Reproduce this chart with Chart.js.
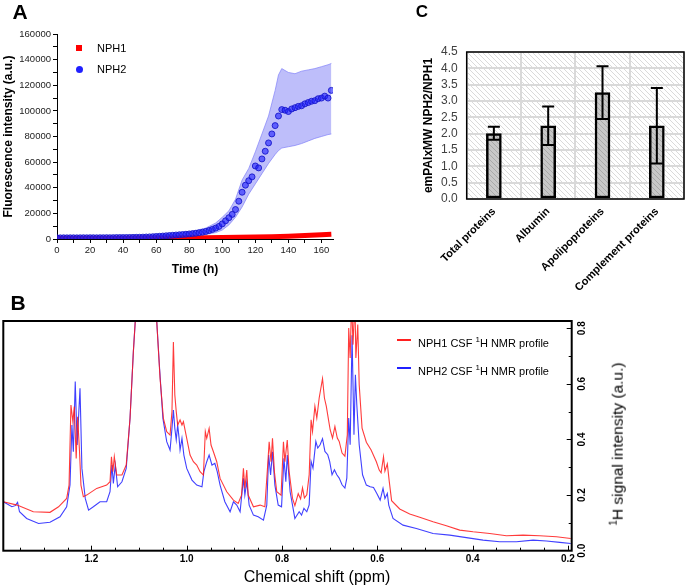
<!DOCTYPE html>
<html>
<head>
<meta charset="utf-8">
<script src="https://cdn.jsdelivr.net/npm/chart.js@4.4.1/dist/chart.umd.min.js"></script>
<style>
  html, body { margin: 0; padding: 0; background: #fff; }
  #figure { position: relative; width: 685px; height: 588px; overflow: hidden;
            font-family: 'Liberation Sans', Arial, sans-serif; color: #000; }
  canvas { position: absolute; }
  .label { position: absolute; white-space: nowrap; transform: translate(-50%, -50%); line-height: 1; }
  .panel { font-weight: bold; }
  .legend { position: absolute; white-space: nowrap; font-size: 11px; line-height: 14px; }
  .swatch { position: absolute; }
</style>
</head>
<body>
<div id="figure">
  <canvas id="chartA" width="345" height="290" style="left:0;top:0"></canvas>
  <canvas id="chartC" width="345" height="290" style="left:340px;top:0"></canvas>
  <canvas id="chartB" width="685" height="303" style="left:0;top:285px"></canvas>

  <div class="label panel" style="left:20px;top:11px;font-size:21px">A</div>
  <div class="label panel" style="left:18px;top:302px;font-size:21px">B</div>
  <div class="label panel" style="left:422px;top:11px;font-size:17px">C</div>

  <!-- panel A legend -->
  <div class="swatch" style="left:76px;top:45px;width:6px;height:6px;background:#ff0000"></div>
  <div class="legend" style="left:97px;top:41px">NPH1</div>
  <div class="swatch" style="left:76px;top:66px;width:7px;height:7px;border-radius:50%;background:#2020ff"></div>
  <div class="legend" style="left:97px;top:62px">NPH2</div>

  <!-- panel B legend and titles -->
  <div class="swatch" style="left:397px;top:339px;width:14px;height:2px;background:#ff2020"></div>
  <div class="legend" style="left:418px;top:333px">NPH1 CSF <sup style="font-size:8px">1</sup>H NMR profile</div>
  <div class="swatch" style="left:397px;top:367px;width:14px;height:2px;background:#2020ff"></div>
  <div class="legend" style="left:418px;top:361px">NPH2 CSF <sup style="font-size:8px">1</sup>H NMR profile</div>
  <div class="label" style="left:317px;top:577px;font-size:16px">Chemical shift (ppm)</div>
  <div class="label" style="left:617px;top:444px;font-size:15.5px;transform:translate(-50%,-50%) rotate(-90deg)"><sup style="font-size:10px">1</sup>H signal intensity (a.u.)</div>
</div>

<script>
// ------------------------------------------------------------
// Panel A: fluorescence vs time
// ------------------------------------------------------------
const timeHours = [0,2,4,6,8,10,12,14,16,18,20,22,24,26,28,30,32,34,36,38,
  40,42,44,46,48,50,52,54,56,58,60,62,64,66,68,70,72,74,76,78,
  80,82,84,86,88,90,92,94,96,98,100,102,104,106,108,110,112,114,116,118,
  120,122,124,126,128,130,132,134,136,138,140,142,144,146,148,150,152,154,156,158,
  160,162,164,166];
const nph2Mean = [900,900,950,900,950,950,900,950,1000,950,1000,1000,950,1000,1000,1050,1000,1050,1100,1100,
  1100,1150,1200,1250,1300,1350,1450,1550,1650,1800,1950,2100,2300,2500,2700,2900,3100,3300,3500,3700,
  3950,4200,4500,4900,5300,5900,6600,7500,8500,9800,11800,14200,16600,19200,23000,29500,36500,42000,45500,48500,
  57000,55500,62500,68500,75000,82000,88500,96000,101000,100500,99500,101500,102500,103500,104000,105500,106500,107500,108000,109500,
  110000,111500,110000,116000];

const bandHours = [0,20,40,60,70,80,90,96,100,104,108,112,116,120,124,128,132,134,136,140,144,148,152,156,160,164,166];
const nph2Upper = [1500,1500,1600,3000,4000,5500,8500,12500,17000,22000,31000,46000,55000,68000,82000,96000,116000,128000,133000,130000,129000,131000,132000,133000,134500,136000,137000];
const nph2Lower = [500,500,500,800,1500,2500,3500,5000,7000,11000,17000,25000,35000,43000,51000,59000,66000,69000,71000,72000,73000,74500,76500,78500,80000,81500,82000];

const nph1Hours = [0,10,20,30,40,50,60,70,80,90,100,110,120,130,140,150,160,166];
const nph1Mean = [500,500,550,600,650,700,750,850,950,1050,1150,1300,1500,1800,2200,2700,3300,3700];

// ------------------------------------------------------------
// Panel C: emPAI x MW ratio
// ------------------------------------------------------------
const proteinGroups = ['Total proteins', 'Albumin', 'Apolipoproteins', 'Complement proteins'];
const ratioMean = [2.0, 2.24, 3.26, 2.24];
const ratioHigh = [2.21, 2.83, 4.06, 3.40];
const ratioLow = [1.81, 1.65, 2.45, 1.09];

// ------------------------------------------------------------
// Panel B: 1H NMR spectra [ppm, intensity]
// ------------------------------------------------------------
const nph1Spectrum = [[1.385,0.176],[1.356,0.164],[1.322,0.140],[1.287,0.138],[1.269,0.158],[1.252,0.188],[1.247,0.236],
  [1.243,0.524],[1.239,0.464],[1.236,0.518],[1.232,0.332],[1.229,0.482],[1.225,0.356],[1.222,0.236],[1.217,0.194],
  [1.210,0.200],[1.189,0.224],[1.168,0.236],[1.161,0.248],[1.158,0.338],[1.155,0.284],[1.152,0.338],[1.147,0.272],
  [1.136,0.272],[1.127,0.308],[1.119,0.476],[1.112,0.716],[1.108,0.826],[1.086,1.6],[1.063,0.826],[1.056,0.620],
  [1.049,0.476],[1.042,0.428],[1.035,0.416],[1.031,0.500],[1.028,0.750],[1.025,0.560],[1.022,0.500],[1.019,0.452],
  [1.014,0.470],[1.010,0.452],[1.007,0.464],[1.000,0.404],[0.993,0.344],[0.986,0.320],[0.979,0.308],[0.972,0.284],
  [0.965,0.272],[0.961,0.428],[0.958,0.404],[0.953,0.440],[0.949,0.380],[0.944,0.356],[0.937,0.320],[0.930,0.260],
  [0.916,0.212],[0.902,0.182],[0.892,0.170],[0.885,0.200],[0.881,0.296],[0.878,0.224],[0.874,0.290],[0.871,0.200],
  [0.860,0.158],[0.846,0.164],[0.836,0.158],[0.831,0.284],[0.827,0.392],[0.823,0.320],[0.820,0.404],[0.816,0.284],
  [0.811,0.212],[0.802,0.200],[0.797,0.392],[0.794,0.320],[0.789,0.398],[0.785,0.284],[0.778,0.188],[0.773,0.162],
  [0.766,0.205],[0.761,0.186],[0.757,0.226],[0.753,0.190],[0.748,0.201],[0.743,0.273],[0.739,0.471],[0.736,0.429],
  [0.731,0.519],[0.727,0.477],[0.722,0.549],[0.715,0.619],[0.711,0.549],[0.707,0.519],[0.703,0.477],[0.699,0.435],
  [0.694,0.405],[0.689,0.447],[0.684,0.405],[0.680,0.393],[0.674,0.351],[0.668,0.340],[0.663,0.417],[0.660,0.801],
  [0.657,0.693],[0.654,0.900],[0.651,0.741],[0.647,0.900],[0.645,0.693],[0.641,0.813],[0.638,0.597],[0.632,0.441],
  [0.623,0.390],[0.613,0.362],[0.602,0.320],[0.596,0.290],[0.592,0.280],[0.587,0.338],[0.584,0.286],[0.579,0.312],
  [0.575,0.250],[0.570,0.180],[0.553,0.150],[0.532,0.132],[0.511,0.120],[0.483,0.104],[0.455,0.090],[0.427,0.074],
  [0.399,0.068],[0.364,0.062],[0.329,0.054],[0.294,0.056],[0.259,0.054],[0.224,0.050],[0.194,0.044]];

const nph2Spectrum = [[1.385,0.176],[1.367,0.158],[1.360,0.162],[1.355,0.174],[1.351,0.140],[1.336,0.116],[1.311,0.098],
  [1.287,0.102],[1.266,0.122],[1.252,0.158],[1.245,0.236],[1.241,0.452],[1.238,0.356],[1.234,0.608],[1.230,0.380],
  [1.224,0.584],[1.220,0.296],[1.213,0.188],[1.206,0.146],[1.196,0.158],[1.182,0.176],[1.168,0.176],[1.161,0.212],
  [1.157,0.308],[1.154,0.242],[1.150,0.308],[1.145,0.230],[1.136,0.248],[1.127,0.296],[1.119,0.476],[1.112,0.716],
  [1.108,0.826],[1.086,1.6],[1.063,0.826],[1.057,0.656],[1.050,0.476],[1.042,0.392],[1.035,0.362],[1.031,0.440],
  [1.028,0.506],[1.025,0.440],[1.022,0.398],[1.019,0.452],[1.016,0.404],[1.014,0.362],[1.010,0.404],[1.006,0.344],
  [1.000,0.296],[0.989,0.254],[0.979,0.236],[0.968,0.230],[0.964,0.284],[0.958,0.320],[0.953,0.344],[0.947,0.308],
  [0.941,0.314],[0.936,0.284],[0.930,0.236],[0.920,0.176],[0.909,0.140],[0.902,0.176],[0.895,0.164],[0.888,0.140],
  [0.881,0.260],[0.878,0.200],[0.874,0.248],[0.869,0.164],[0.860,0.128],[0.850,0.122],[0.839,0.110],[0.832,0.164],
  [0.828,0.344],[0.824,0.272],[0.820,0.356],[0.815,0.236],[0.808,0.164],[0.801,0.158],[0.796,0.332],[0.792,0.248],
  [0.789,0.344],[0.783,0.212],[0.773,0.116],[0.764,0.140],[0.759,0.128],[0.754,0.152],[0.748,0.140],[0.743,0.165],
  [0.739,0.321],[0.735,0.297],[0.729,0.393],[0.725,0.369],[0.720,0.381],[0.715,0.403],[0.710,0.357],[0.704,0.345],
  [0.700,0.321],[0.695,0.273],[0.690,0.291],[0.685,0.273],[0.680,0.261],[0.674,0.237],[0.668,0.225],[0.664,0.261],
  [0.660,0.477],[0.657,0.381],[0.653,0.775],[0.649,0.417],[0.646,0.633],[0.643,0.524],[0.638,0.381],[0.631,0.273],
  [0.623,0.236],[0.615,0.230],[0.608,0.227],[0.601,0.206],[0.594,0.182],[0.588,0.224],[0.584,0.188],[0.579,0.206],
  [0.576,0.164],[0.567,0.116],[0.546,0.092],[0.518,0.080],[0.483,0.062],[0.448,0.056],[0.413,0.047],[0.378,0.038],
  [0.343,0.032],[0.308,0.032],[0.273,0.038],[0.245,0.035],[0.217,0.030],[0.194,0.026]];

Chart.defaults.font.family = "'Liberation Sans', Arial, sans-serif";
Chart.defaults.color = '#222';
Chart.defaults.animation = false;
Chart.defaults.plugins.legend.display = false;
Chart.defaults.plugins.tooltip.enabled = false;

const toPoints = (xs, ys) => xs.map((x, i) => ({ x, y: ys[i] }));
const pairsToPoints = (pairs) => pairs.map(([x, y]) => ({ x, y }));

// ---------------- A ----------------
new Chart(document.getElementById('chartA'), {
  type: 'line',
  data: {
    datasets: [
      {
        label: 'NPH2',
        data: toPoints(timeHours, nph2Mean),
        showLine: false,
        pointRadius: 3,
        pointBackgroundColor: 'rgba(30, 30, 255, 0.6)',
        pointBorderColor: 'rgba(20, 20, 200, 0.85)',
        pointBorderWidth: 1,
      },
      {
        label: 'NPH1',
        data: toPoints(nph1Hours, nph1Mean),
        borderColor: '#ff0000',
        borderWidth: 5,
        pointRadius: 0,
      },
      {
        label: 'NPH2 upper',
        data: toPoints(bandHours, nph2Upper),
        borderColor: 'rgba(130, 130, 250, 0.7)',
        borderWidth: 1,
        pointRadius: 0,
        fill: '+1',
        backgroundColor: 'rgba(125, 125, 245, 0.5)',
      },
      {
        label: 'NPH2 lower',
        data: toPoints(bandHours, nph2Lower),
        borderColor: 'rgba(130, 130, 250, 0.7)',
        borderWidth: 1,
        pointRadius: 0,
      },
    ],
  },
  options: {
    responsive: false,
    layout: { padding: { top: 34, right: 12, left: 0, bottom: 0 } },
    scales: {
      x: {
        type: 'linear', min: 0, max: 167,
        ticks: { stepSize: 10, includeBounds: false, autoSkip: false, maxRotation: 0,
          callback: (v) => (v % 20 === 0 ? String(v) : ''), font: { size: 9.5 }, padding: 2 },
        grid: { drawOnChartArea: false, color: '#000', tickLength: 4 },
        border: { color: '#000', width: 1 },
        title: { display: true, text: 'Time (h)', color: '#000', font: { size: 12, weight: 'bold' },
          padding: { top: 0, bottom: 13 } },
        afterFit: (s) => { s.height = 51; },
      },
      y: {
        min: 0, max: 160000,
        ticks: { stepSize: 10000, autoSkip: false,
          callback: (v) => (v % 20000 === 0 ? String(v) : ''), font: { size: 9.5 }, padding: 2 },
        grid: { drawOnChartArea: false, color: '#000', tickLength: 4 },
        border: { color: '#000', width: 1 },
        title: { display: true, text: 'Fluorescence intensity (a.u.)', color: '#000',
          font: { size: 12, weight: 'bold' }, padding: { top: 1, bottom: 0 } },
        afterFit: (s) => { s.width = 57; },
      },
    },
  },
});

// ---------------- C ----------------
function makeHatch(ctx, bg, line, size) {
  const c = document.createElement('canvas');
  c.width = size;
  c.height = size;
  const g = c.getContext('2d');
  g.fillStyle = bg;
  g.fillRect(0, 0, size, size);
  g.strokeStyle = line;
  g.lineWidth = 1;
  g.beginPath();
  g.moveTo(-1, -1); g.lineTo(size + 1, size + 1);
  g.moveTo(-1, size - 1); g.lineTo(1, size + 1);
  g.moveTo(size - 1, -1); g.lineTo(size + 1, 1);
  g.stroke();
  return ctx.createPattern(c, 'repeat');
}

const ctxC = document.getElementById('chartC').getContext('2d');
const areaPattern = makeHatch(ctxC, '#ffffff', '#dadada', 5);
const barPattern = makeHatch(ctxC, '#c8c8c8', '#a8a8a8', 5);

const hatchedArea = {
  id: 'hatchedArea',
  beforeDraw(chart) {
    const { ctx, chartArea: a } = chart;
    ctx.save();
    ctx.fillStyle = areaPattern;
    ctx.fillRect(a.left, a.top, a.width, a.height);
    ctx.restore();
  },
  afterDatasetsDraw(chart) {
    const { ctx, chartArea: a, scales: { y } } = chart;
    const bars = chart.getDatasetMeta(0).data;
    ctx.save();
    ctx.strokeStyle = '#000';
    ctx.lineWidth = 2;
    bars.forEach((bar, i) => {
      const top = y.getPixelForValue(ratioHigh[i]);
      const bottom = y.getPixelForValue(ratioLow[i]);
      ctx.beginPath();
      ctx.moveTo(bar.x, top); ctx.lineTo(bar.x, bottom);
      ctx.moveTo(bar.x - 6, top); ctx.lineTo(bar.x + 6, top);
      ctx.moveTo(bar.x - 6, bottom); ctx.lineTo(bar.x + 6, bottom);
      ctx.stroke();
    });
    ctx.lineWidth = 1.5;
    ctx.strokeRect(a.left, a.top, a.width, a.height);
    ctx.restore();
  },
};

new Chart(ctxC, {
  type: 'bar',
  data: {
    labels: proteinGroups,
    datasets: [{
      data: ratioMean,
      backgroundColor: barPattern,
      borderColor: '#000',
      borderWidth: 2.5,
      borderSkipped: false,
      barThickness: 15,
    }],
  },
  options: {
    responsive: false,
    layout: { padding: { top: 52, right: 1, left: 80, bottom: 0 } },
    scales: {
      x: {
        grid: { color: '#d9d9d9', lineWidth: 2, drawTicks: false },
        border: { display: false },
        ticks: { minRotation: 45, maxRotation: 45, autoSkip: false, padding: 6,
          color: '#000', font: { size: 11, weight: 'bold' } },
        afterFit: (s) => { s.height = 91; },
      },
      y: {
        min: 0, max: 4.5,
        ticks: { stepSize: 0.5, autoSkip: false, callback: (v) => v.toFixed(1), padding: 9,
          color: '#404040', font: { size: 12 } },
        grid: { color: '#d9d9d9', lineWidth: 2, drawTicks: false },
        border: { display: false },
        title: { display: true, text: 'emPAIxMW NPH2/NPH1', color: '#000',
          font: { size: 12, weight: 'bold' }, padding: { top: 1, bottom: 0 } },
        afterFit: (s) => { s.width = 46.7; },
      },
    },
  },
  plugins: [hatchedArea],
});

// ---------------- B ----------------
const spectrumFrame = {
  id: 'spectrumFrame',
  afterDatasetsDraw(chart) {
    const { ctx, chartArea: a, scales: { x, y } } = chart;
    ctx.save();
    ctx.strokeStyle = '#000';
    ctx.lineWidth = 1;
    ctx.beginPath();
    for (let k = 4; k <= 27; k++) {
      const px = Math.round(x.getPixelForValue(k * 0.05)) + 0.5;
      const len = k % 4 === 0 ? 5 : 3;
      ctx.moveTo(px, a.bottom);
      ctx.lineTo(px, a.bottom - len);
    }
    for (let k = 1; k <= 8; k++) {
      const py = Math.round(y.getPixelForValue(k * 0.1)) + 0.5;
      const len = k % 2 === 0 ? 5 : 3;
      ctx.moveTo(a.right, py);
      ctx.lineTo(a.right - len, py);
    }
    ctx.stroke();
    ctx.lineWidth = 2;
    ctx.strokeRect(a.left, a.top, a.width, a.height);
    ctx.restore();
  },
};

new Chart(document.getElementById('chartB'), {
  type: 'line',
  data: {
    datasets: [
      {
        label: 'NPH1 CSF 1H NMR profile',
        data: pairsToPoints(nph1Spectrum),
        borderColor: 'rgba(255, 25, 25, 0.85)',
        borderWidth: 1.1,
        pointRadius: 0,
      },
      {
        label: 'NPH2 CSF 1H NMR profile',
        data: pairsToPoints(nph2Spectrum),
        borderColor: 'rgba(30, 30, 255, 0.85)',
        borderWidth: 1.1,
        pointRadius: 0,
      },
    ],
  },
  options: {
    responsive: false,
    layout: { padding: { top: 36, right: 83.3, left: 3.3, bottom: 0 } },
    scales: {
      x: {
        type: 'linear', reverse: true, min: 0.192, max: 1.385,
        ticks: { stepSize: 0.2, includeBounds: false, maxRotation: 0, autoSkip: false,
          callback: (v) => v.toFixed(1), color: '#000', font: { size: 10, weight: 'bold' }, padding: 3 },
        grid: { display: false, drawTicks: false },
        border: { display: false },
        afterFit: (s) => { s.height = 37.3; },
      },
      y: {
        position: 'right', min: 0, max: 0.826,
        ticks: { stepSize: 0.2, includeBounds: false, minRotation: 90, maxRotation: 90, crossAlign: 'center',
          callback: (v) => v.toFixed(1), color: '#000', font: { size: 10, weight: 'bold' }, padding: 4 },
        grid: { display: false, drawTicks: false },
        border: { display: false },
        afterFit: (s) => { s.width = 30; },
      },
    },
  },
  plugins: [spectrumFrame],
});
</script>
</body>
</html>
